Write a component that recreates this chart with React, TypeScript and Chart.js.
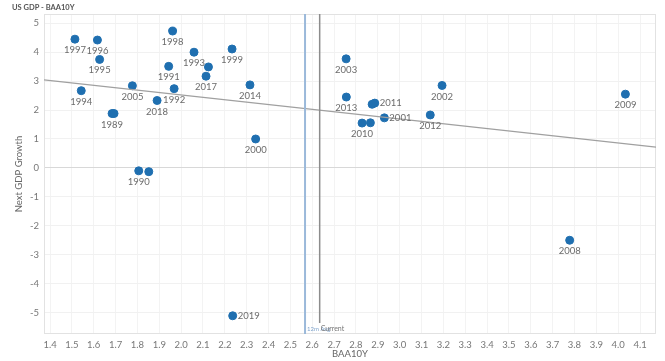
import React, { useEffect, useRef } from "react";
import { Chart, registerables } from "chart.js";

Chart.register(...registerables);

const baaX = [1.514, 1.617, 1.627, 1.961, 2.059, 2.233, 1.943, 2.125, 2.114, 1.543, 1.777, 1.968, 1.89, 2.315, 1.684, 1.693, 2.341, 1.806, 1.852, 2.755, 2.756, 2.874, 2.886, 2.93, 2.828, 2.866, 3.14, 3.194, 4.033, 3.778, 2.236];
const gdpY = [4.45, 4.42, 3.75, 4.73, 4.0, 4.11, 3.51, 3.49, 3.17, 2.67, 2.84, 2.74, 2.33, 2.87, 1.88, 1.88, 1.0, -0.1, -0.13, 3.77, 2.45, 2.2, 2.24, 1.73, 1.55, 1.56, 1.83, 2.85, 2.55, -2.5, -5.11];
const yearLabels = ["1997", "1996", "1995", "1998", "1993", "1999", "1991", "", "2017", "1994", "2005", "1992", "2018", "2014", "1989", "", "2000", "1990", "", "2003", "2013", "", "2011", "2001", "2010", "", "2012", "2002", "2009", "2008", "2019"];
const rightLabelYears = ["2011", "2001", "2019"];

const trendX = [1.3725, 4.173];
const trendY = [3.04, 0.72];

const avg12m = 2.567;
const current = 2.634;

const xTicks = [1.4, 1.5, 1.6, 1.7, 1.8, 1.9, 2.0, 2.1, 2.2, 2.3, 2.4, 2.5, 2.6, 2.7, 2.8, 2.9, 3.0, 3.1, 3.2, 3.3, 3.4, 3.5, 3.6, 3.7, 3.8, 3.9, 4.0, 4.1];
const yTicks = [-5, -4, -3, -2, -1, 0, 1, 2, 3, 4, 5];

const FONT = "Lato, 'Open Sans', sans-serif";

export default function App() {
  const ref = useRef<HTMLCanvasElement | null>(null);

  useEffect(() => {
    const canvas = ref.current;
    if (!canvas) return;

    const overlay = {
      id: "overlay",
      afterDatasetsDraw(chart: any) {
        const ctx = chart.ctx;
        const xs = chart.scales.x;
        const ys = chart.scales.y;
        const area = chart.chartArea;
        ctx.save();
        // vertical reference lines
        const bx = xs.getPixelForValue(avg12m);
        ctx.strokeStyle = "#9bb9da";
        ctx.lineWidth = 2;
        ctx.beginPath();
        ctx.moveTo(bx, area.top);
        ctx.lineTo(bx, area.bottom);
        ctx.stroke();
        const gx = xs.getPixelForValue(current);
        ctx.strokeStyle = "#8c8c8c";
        ctx.lineWidth = 1.5;
        ctx.beginPath();
        ctx.moveTo(gx, area.top);
        ctx.lineTo(gx, area.bottom - 11);
        ctx.stroke();
        ctx.textBaseline = "middle";
        ctx.textAlign = "left";
        ctx.font = "6px " + FONT;
        ctx.fillStyle = "#7fa3cc";
        ctx.fillText("12m Avg", bx + 2, area.bottom - 5);
        ctx.font = "7px " + FONT;
        ctx.fillStyle = "#777";
        ctx.fillText("Current", gx + 1, area.bottom - 5);

        // point labels
        ctx.font = "9.5px " + FONT;
        ctx.fillStyle = "#6b6b6b";
        const meta = chart.getDatasetMeta(1);
        meta.data.forEach((pt: any, i: number) => {
          const lbl = yearLabels[i];
          if (!lbl) return;
          if (rightLabelYears.includes(lbl)) {
            ctx.textAlign = "left";
            ctx.fillText(lbl, pt.x + 5, pt.y);
          } else {
            ctx.textAlign = "center";
            ctx.fillText(lbl, pt.x, pt.y + 11);
          }
        });

        // chart title
        ctx.textAlign = "left";
        ctx.font = "bold 7.5px " + FONT;
        ctx.fillStyle = "#555";
        ctx.fillText("US GDP - BAA10Y", 12, 8);
        ctx.restore();
      },
      beforeDatasetsDraw(chart: any) {
        const ctx = chart.ctx;
        const area = chart.chartArea;
        ctx.save();
        ctx.strokeStyle = "#e2e2e2";
        ctx.lineWidth = 1;
        ctx.strokeRect(area.left + 0.5, area.top + 0.5, area.right - area.left - 1, area.bottom - area.top - 1);
        ctx.restore();
      },
    };

    const chart = new Chart(canvas, {
      type: "scatter",
      data: {
        datasets: [
          {
            type: "line",
            data: trendX.map((x, i) => ({ x, y: trendY[i] })),
            borderColor: "#a0a0a0",
            borderWidth: 1.2,
            pointRadius: 0,
            fill: false,
          } as any,
          {
            data: baaX.map((x, i) => ({ x, y: gdpY[i] })),
            backgroundColor: "#1f6fb0",
            borderColor: "#1f6fb0",
            pointRadius: 4,
            pointHoverRadius: 4,
          },
        ],
      },
      options: {
        responsive: false,
        animation: false,
        devicePixelRatio: 1,
        layout: { padding: { top: 14, right: 9, left: 0, bottom: 0 } },
        plugins: { legend: { display: false }, tooltip: { enabled: false } },
        scales: {
          x: {
            type: "linear",
            min: 1.3725,
            max: 4.173,
            afterBuildTicks: (s: any) => {
              s.ticks = xTicks.map((v) => ({ value: v }));
            },
            afterFit: (s: any) => {
              s.height = 27;
            },
            border: { display: false },
            grid: { color: "#f3f3f3", drawTicks: false },
            ticks: {
              padding: 5,
              color: "#777",
              font: { family: FONT, size: 9.5 },
              maxRotation: 0,
              autoSkip: false,
              callback: (v: any) => Number(v).toFixed(1),
            },
            title: {
              display: true,
              text: "BAA10Y",
              color: "#666",
              font: { family: FONT, size: 9.5 },
              padding: { top: 0, bottom: 1 },
            },
          },
          y: {
            type: "linear",
            min: -5.74,
            max: 5.32,
            afterBuildTicks: (s: any) => {
              s.ticks = yTicks.map((v) => ({ value: v }));
            },
            afterFit: (s: any) => {
              s.width = 44;
            },
            border: { display: false },
            grid: {
              color: (c: any) => (c.tick && c.tick.value === 0 ? "#d8d8d8" : "#f1f1f1"),
              drawTicks: false,
            },
            ticks: {
              padding: 5,
              color: "#777",
              font: { family: FONT, size: 9.5 },
              autoSkip: false,
            },
            title: {
              display: true,
              text: "Next GDP Growth",
              color: "#666",
              font: { family: FONT, size: 9.5 },
              padding: { top: 13, bottom: 0 },
            },
          },
        },
      },
      plugins: [overlay],
    });

    return () => chart.destroy();
  }, []);

  return (
    <div style={{ position: "absolute", left: 0, top: 0, width: 665, height: 361, background: "#fff" }}>
      <canvas ref={ref} width={665} height={361} style={{ display: "block", width: 665, height: 361 }} />
    </div>
  );
}
